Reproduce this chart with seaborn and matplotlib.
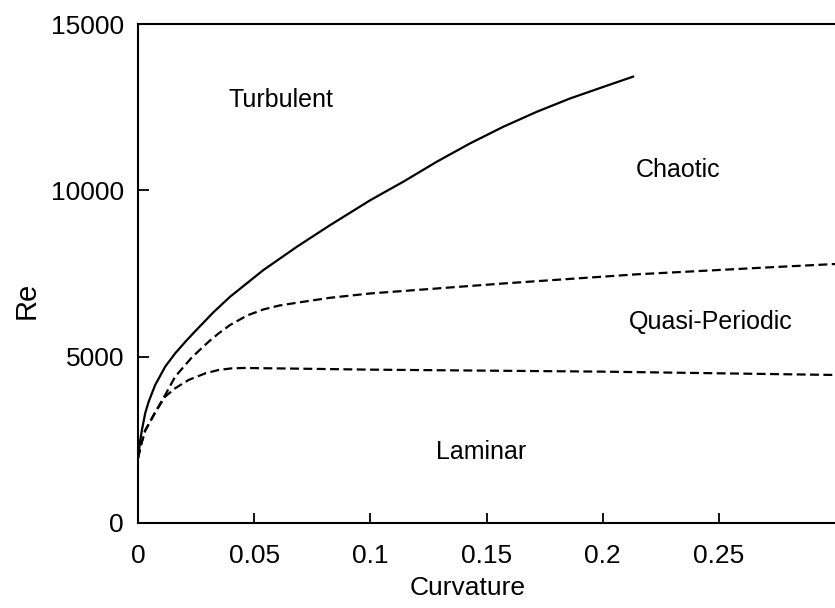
import matplotlib
matplotlib.use("Agg")
import matplotlib.pyplot as plt
import seaborn as sns
import pandas as pd

# Stability boundaries: Reynolds number vs. pipe curvature
curv_turbulent = [0, 0.001, 0.0017, 0.0031, 0.0046, 0.0074, 0.0117, 0.016, 0.0204, 0.024,
                  0.0324, 0.0396, 0.0539, 0.0683, 0.0826, 0.0999, 0.1142, 0.1286, 0.1429,
                  0.1572, 0.1716, 0.1859, 0.2003, 0.2132]
re_turbulent = [1950, 2500, 2800, 3300, 3650, 4150, 4700, 5100, 5450, 5720,
                6330, 6800, 7600, 8300, 8950, 9700, 10260, 10860, 11410,
                11910, 12360, 12760, 13110, 13420]

curv_chaotic = [0, 0.0015, 0.0031, 0.0074, 0.0117, 0.016, 0.0232, 0.0304, 0.0347, 0.0396,
                0.047, 0.054, 0.061, 0.0683, 0.0826, 0.1, 0.1572, 0.2146, 0.2719, 0.3]
re_chaotic = [1950, 2400, 2780, 3330, 3850, 4400, 4980, 5450, 5700, 5950,
              6240, 6420, 6540, 6620, 6770, 6900, 7200, 7475, 7686, 7785]

curv_quasi = [0, 0.0015, 0.0031, 0.0074, 0.0117, 0.016, 0.0218, 0.029, 0.0347, 0.0405,
              0.046, 0.0683, 0.1, 0.2, 0.3]
re_quasi = [1950, 2400, 2780, 3320, 3800, 4050, 4300, 4500, 4600, 4650,
            4660, 4640, 4610, 4550, 4450]

region_names = ["Turbulent", "Chaotic", "Quasi-Periodic", "Laminar"]
region_curv = [0.0615, 0.2323, 0.2465, 0.1475]
region_re = [12715, 10610, 6040, 2134]

x_ticks = [0, 0.05, 0.1, 0.15, 0.2, 0.25]
x_ticklabels = ["0", "0.05", "0.1", "0.15", "0.2", "0.25"]
y_ticks = [0, 5000, 10000, 15000]
y_ticklabels = ["0", "5000", "10000", "15000"]

sns.set_style("ticks")
plt.rcParams["font.family"] = ["Liberation Sans", "DejaVu Sans"]

fig = plt.figure(figsize=(8.35, 6.08), dpi=100)
ax = fig.add_axes([138 / 835, 85 / 608, 1 - 138 / 835, (523 - 24) / 608])

df_t = pd.DataFrame({"Curvature": curv_turbulent, "Re": re_turbulent})
df_c = pd.DataFrame({"Curvature": curv_chaotic, "Re": re_chaotic})
df_q = pd.DataFrame({"Curvature": curv_quasi, "Re": re_quasi})

line_kw = dict(ax=ax, color="black", lw=1.6, sort=False, estimator=None)
sns.lineplot(data=df_t, x="Curvature", y="Re", solid_joinstyle="round", **line_kw)
sns.lineplot(data=df_c, x="Curvature", y="Re", linestyle=(0, (4, 2)), **line_kw)
sns.lineplot(data=df_q, x="Curvature", y="Re", linestyle=(0, (4, 2)), **line_kw)

for name, cx, cy in zip(region_names, region_curv, region_re):
    ax.text(cx, cy, name, ha="center", va="center", fontsize=18, color="black")

ax.set_xlim(0, 0.3)
ax.set_ylim(0, 15000)
ax.set_xticks(x_ticks)
ax.set_xticklabels(x_ticklabels)
ax.set_yticks(y_ticks)
ax.set_yticklabels(y_ticklabels)
ax.tick_params(axis="both", direction="in", labelsize=19, colors="black", width=1.3)
ax.tick_params(axis="x", length=7, pad=15)
ax.tick_params(axis="y", length=8, pad=10)

for side in ["left", "bottom", "top"]:
    ax.spines[side].set_linewidth(1.5)
    ax.spines[side].set_color("black")
ax.spines["right"].set_visible(False)

ax.set_xlabel("Curvature", fontsize=19, x=0.473, labelpad=6, color="black")
ax.set_ylabel("Re", fontsize=21, color="black")
ax.yaxis.set_label_coords(-0.14, 0.447)

fig.savefig("out.png", dpi=100, facecolor="white")
